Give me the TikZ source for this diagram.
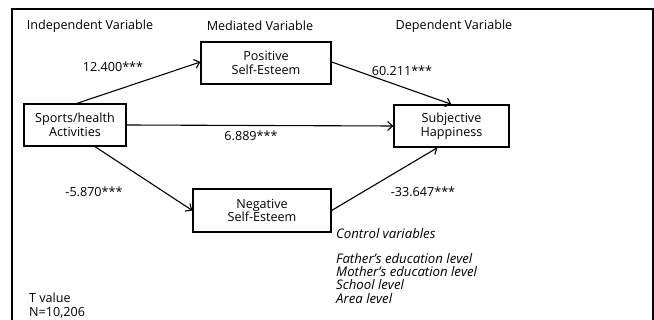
\documentclass[tikz,border=0pt]{standalone}
\usepackage{fontspec}
\setmainfont{Open Sans}
\usetikzlibrary{arrows.meta}
\begin{document}
\begin{tikzpicture}[x=1pt,y=-1pt,
  box/.style={draw,line width=1.3pt,minimum width=#1,minimum height=42pt,inner sep=0pt,align=center,font=\fontsize{12.6}{13.5}\selectfont},
  lbl/.style={font=\fontsize{12.6}{13.5}\selectfont,inner sep=0pt},
  ital/.style={font=\fontsize{13.2}{13.3}\selectfont\itshape,inner sep=0pt,anchor=west,align=left},
  arr/.style={line width=1.1pt,-{Straight Barb[length=5pt,width=9pt,line width=1.1pt]}}]
\useasboundingbox (0,0) rectangle (654,320);
\fill[white] (0,0) rectangle (654,320);
\draw[line width=1.8pt] (12,320) -- (12,9) -- (653,9) -- (653,320);

\node[lbl] (iv) at (90,26) {Independent Variable};
\node[lbl] (mv) at (260,26) {Mediated Variable};
\node[lbl] (dv) at (454,26) {Dependent Variable};

\node[box=102pt] (sp) at (75,125) {Sports/health\\Activities};
\node[box=130pt] (pos) at (266,63) {Positive\\Self-Esteem};
\node[box=138pt,minimum height=43pt] (neg) at (262,210.5) {Negative\\Self-Esteem};
\node[box=115pt] (sh) at (451.5,126) {Subjective\\Happiness};

\draw[arr] ([xshift=2pt]sp.north) -- ([yshift=1pt]pos.west);
\draw[arr] ([yshift=1pt]pos.east) -- (sh.north);
\draw[arr] (sp.east) -- (sh.west);
\draw[arr] ([xshift=20pt]sp.south) -- (neg.west);
\draw[arr] (neg.east) -- ([xshift=-14pt]sh.south);

\node[lbl] (l1) at (113,67) {12.400***};
\node[lbl] (l2) at (402,71) {60.211***};
\node[lbl] (l3) at (251,136) {6.889***};
\node[lbl] (l4) at (94,192) {-5.870***};
\node[lbl] (l5) at (423,192) {-33.647***};

\node[ital] (cv) at (336,234) {Control variables};
\node[ital,anchor=north west] (cl) at (336,253) {Father’s education level\\Mother’s education level\\School level\\Area level};

\node[lbl,anchor=north west,align=left] (tv) at (29,293) {T value\\N=10,206};
\end{tikzpicture}
\end{document}
